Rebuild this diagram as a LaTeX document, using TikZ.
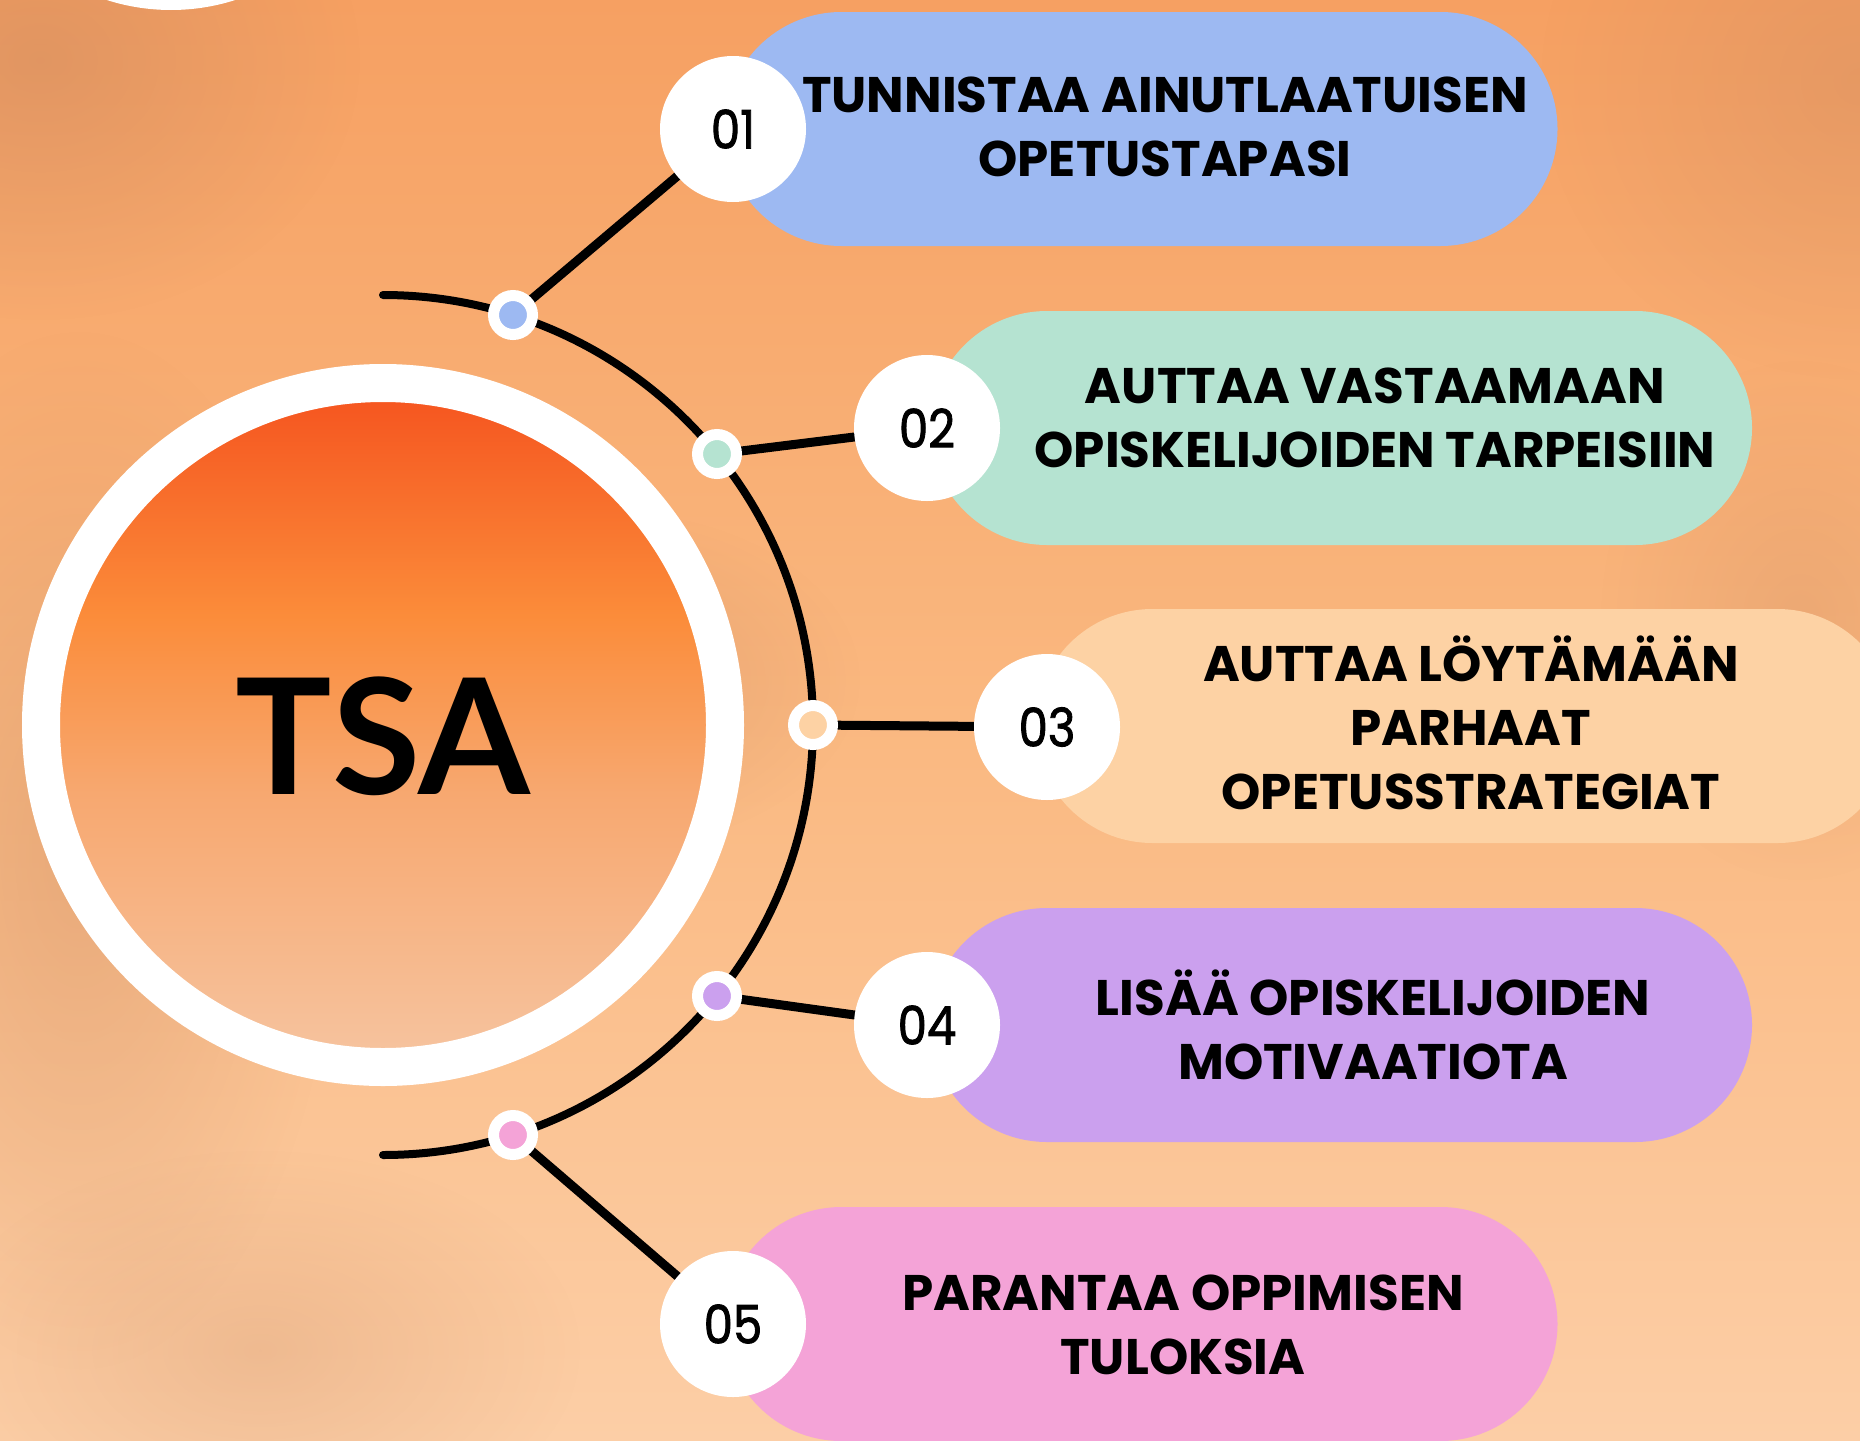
\documentclass[tikz,border=0pt]{standalone}
\usepackage{fontspec}
\setmainfont{Poppins}
\newfontfamily\pillfont{Poppins}
\newfontfamily\numfont[FakeStretch=0.88,FakeBold=1.6]{Poppins}
\newfontfamily\tsafont{Lato}
\usetikzlibrary{shapes.misc,fadings}

\definecolor{bgtop}{RGB}{246,160,98}
\definecolor{bgmid}{RGB}{250,184,128}
\definecolor{bgbot}{RGB}{252,206,166}
\definecolor{shad}{RGB}{200,135,95}
\definecolor{pblue}{RGB}{157,185,242}
\definecolor{pmint}{RGB}{181,227,209}
\definecolor{ppeach}{RGB}{253,210,164}
\definecolor{ppurple}{RGB}{203,160,238}
\definecolor{ppink}{RGB}{244,163,215}
\definecolor{tsatop}{RGB}{245,82,30}
\definecolor{tsamid}{RGB}{251,140,58}
\definecolor{tsalow}{RGB}{247,168,112}
\definecolor{tsabot}{RGB}{246,196,160}

\pgfdeclareverticalshading{tsashade}{100bp}{color(0bp)=(tsabot); color(25bp)=(tsabot); color(45bp)=(tsalow); color(58bp)=(tsamid); color(75bp)=(tsatop); color(100bp)=(tsatop)}
\pgfdeclareverticalshading{bgshade}{100bp}{color(0bp)=(bgbot); color(25bp)=(bgbot); color(50bp)=(bgmid); color(75bp)=(bgtop); color(100bp)=(bgtop)}
\tikzfading[name=softfade, inner color=transparent!0, outer color=transparent!100]

\pgfdeclarelayer{back}
\pgfdeclarelayer{lines}
\pgfsetlayers{back,lines,main}

\tikzset{
  pill/.style={rounded rectangle, minimum height=234pt, inner sep=0pt},
  ptext/.style={align=center, inner sep=0pt, text=black,
    font=\pillfont\bfseries\fontsize{50}{64}\selectfont},
  numc/.style={circle, fill=white, minimum size=146pt, inner sep=0pt,
    font=\numfont\fontsize{53}{53}\selectfont},
  dotc/.style={circle, draw=white, line width=11pt, minimum size=39pt, inner sep=0pt},
  conn/.style={line width=9pt, black},
  arcline/.style={line width=8pt, black, line cap=round},
  blob/.style={fill=shad, path fading=softfade},
}

\begin{document}
\begin{tikzpicture}[x=1pt, y=-1pt]
\useasboundingbox (0,0) rectangle (1860,1440);

\begin{pgfonlayer}{back}
  \shade[shading=bgshade] (0,0) rectangle (1860,1440);
  \fill[blob, opacity=0.45] (40,60) ellipse [x radius=320pt, y radius=260pt];
  \fill[blob, opacity=0.35] (1860,80) ellipse [x radius=320pt, y radius=300pt];
  \fill[blob, opacity=0.35] (80,850) ellipse [x radius=260pt, y radius=520pt];
  \fill[blob, opacity=0.35] (600,680) ellipse [x radius=260pt, y radius=170pt];
  \fill[blob, opacity=0.25] (260,1350) ellipse [x radius=320pt, y radius=200pt];
  \fill[blob, opacity=0.25] (1800,620) ellipse [x radius=200pt, y radius=260pt];
  \fill[white] (171,-200) circle [radius=210pt];
\end{pgfonlayer}

% central circle
\node[circle, minimum size=684pt, inner sep=0pt, draw=white, line width=38pt,
      shade, shading=tsashade, text height=138pt, text depth=0pt,
      font=\tsafont\bfseries\fontsize{161}{161}\selectfont] (tsa) at (383,725) {TSA};

% pills
\node[pill, fill=pblue,   minimum width=833pt] (p1) at (1141,129) {};
\node[pill, fill=pmint,   minimum width=822pt] (p2) at (1341,428) {};
\node[pill, fill=ppeach,  minimum width=859pt] (p3) at (1465,726) {};
\node[pill, fill=ppurple, minimum width=822pt] (p4) at (1341,1025) {};
\node[pill, fill=ppink,   minimum width=833pt] (p5) at (1141,1324) {};

% pill texts
\node[ptext] (t1) at (1165,127) {TUNNISTAA AINUTLAATUISEN\\OPETUSTAPASI};
\node[ptext] (t2) at (1375,418) {AUTTAA VASTAAMAAN\\OPISKELIJOIDEN TARPEISIIN};
\node[ptext] (t3) at (1471,723) {AUTTAA LÖYTÄMÄÄN\\PARHAAT\\OPETUSSTRATEGIAT};
\node[ptext] (t4) at (1373,1025) {LISÄÄ OPISKELIJOIDEN\\MOTIVAATIOTA};
\node[ptext] (t5) at (1183,1325) {PARANTAA OPPIMISEN\\TULOKSIA};

% number circles
\node[numc] (n1) at (733,129) {01};
\node[numc] (n2) at (927,428) {02};
\node[numc] (n3) at (1047,727) {03};
\node[numc] (n4) at (927,1025) {04};
\node[numc] (n5) at (733,1324) {05};

% dots on the arc
\node[dotc, fill=pblue]   (d1) at (513,315) {};
\node[dotc, fill=pmint]   (d2) at (717,454) {};
\node[dotc, fill=ppeach]  (d3) at (813,725) {};
\node[dotc, fill=ppurple] (d4) at (717,996) {};
\node[dotc, fill=ppink]   (d5) at (513,1135) {};

\begin{pgfonlayer}{lines}
  \draw[arcline] (383,295) arc [start angle=90, end angle=-90, radius=430pt];
  \draw[conn] (d1.center) -- (n1.center);
  \draw[conn] (d2.center) -- (n2.center);
  \draw[conn] (d3.center) -- (n3.center);
  \draw[conn] (d4.center) -- (n4.center);
  \draw[conn] (d5.center) -- (n5.center);
\end{pgfonlayer}
\end{tikzpicture}
\end{document}
